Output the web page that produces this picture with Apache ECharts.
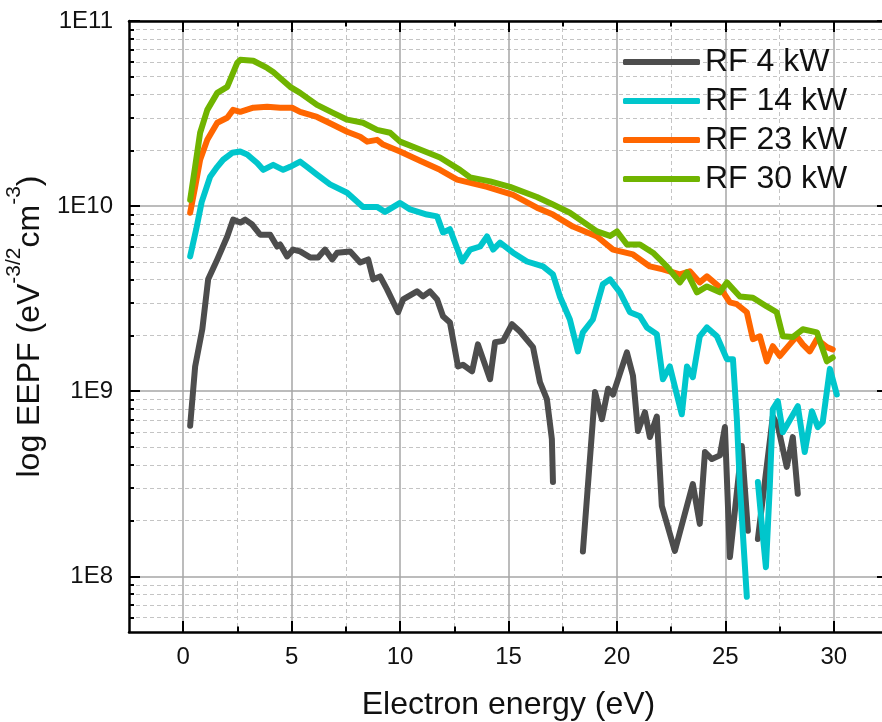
<!DOCTYPE html>
<html>
<head>
<meta charset="utf-8">
<script src="https://cdn.jsdelivr.net/npm/echarts@6/dist/echarts.min.js"></script>
<style>
html,body{margin:0;padding:0;background:#fff;}
#chart{width:882px;height:722px;}
</style>
</head>
<body>
<div id="chart"></div>
<script>
// ---------- DATA ----------
const seriesNames = ['RF 4 kW', 'RF 14 kW', 'RF 23 kW', 'RF 30 kW'];

const energy4 = [0.32,0.55,0.88,1.15,1.57,2.03,2.30,2.63,2.86,3.18,3.55,4.01,4.33,4.47,4.79,5.07,5.39,5.85,6.22,6.54,6.87,7.10,7.70,8.16,8.53,8.76,9.08,9.40,9.91,10.14,10.78,11.06,11.38,11.71,11.98,12.30,12.67,12.90,13.32,13.59,14.15,14.38,14.75,15.16,15.53,16.13,16.45,16.77,17.00,17.05,
  17.70,
  18.43,18.99,19.31,19.59,19.82,20.46,20.74,20.97,21.29,21.52,21.84,22.07,22.67,23.50,23.82,24.06,24.38,24.75,24.98,25.21,25.76,26.04,
  26.30,
  26.50,27.19,27.42,27.83,28.11,28.34];
const eepf4 = [6.5e8,1.36e9,2.16e9,4.02e9,5.15e9,6.85e9,8.45e9,8.15e9,8.45e9,7.95e9,7.0e9,7.0e9,6.05e9,6.2e9,5.35e9,5.82e9,5.69e9,5.28e9,5.28e9,5.82e9,5.15e9,5.6e9,5.69e9,4.96e9,5.15e9,4.02e9,4.17e9,3.55e9,2.67e9,3.13e9,3.46e9,3.25e9,3.46e9,3.13e9,2.54e9,2.35e9,1.36e9,1.39e9,1.28e9,1.79e9,1.16e9,1.84e9,1.87e9,2.30e9,2.10e9,1.73e9,1.12e9,9.06e8,5.5e8,3.23e8,
  null,
  1.36e8,9.9e8,7.06e8,1.03e9,9.6e8,1.62e9,1.21e9,6.1e8,7.7e8,5.65e8,7.3e8,2.4e8,1.37e8,3.15e8,1.92e8,4.69e8,4.3e8,4.5e8,6.4e8,1.27e8,5.05e8,1.76e8,
  null,
  1.59e8,7.3e8,6.5e8,3.9e8,5.65e8,2.79e8];

const energy14 = [0.32,0.60,0.85,1.24,1.57,1.84,2.26,2.63,2.95,3.41,3.69,4.15,4.61,4.93,5.39,5.71,6.17,6.77,7.56,8.29,8.94,9.31,10.00,10.46,11.24,11.71,11.98,12.30,12.86,13.23,13.69,14.01,14.29,14.61,15.21,15.85,16.59,17.05,17.37,17.83,18.20,18.43,18.89,19.35,19.68,20.14,20.60,21.06,21.38,21.84,22.12,22.44,22.99,23.23,23.50,23.82,24.15,24.61,25.07,25.35,25.53,25.67,25.99,
  26.25,
  26.50,26.73,26.87,27.05,27.19,27.42,27.65,28.34,28.66,28.99,29.26,29.49,29.82,30.14];
const eepf14 = [5.35e9,7.5e9,1.05e10,1.44e10,1.63e10,1.78e10,1.94e10,1.97e10,1.90e10,1.71e10,1.57e10,1.67e10,1.57e10,1.63e10,1.74e10,1.63e10,1.48e10,1.31e10,1.18e10,9.9e9,9.9e9,9.3e9,1.04e10,9.6e9,9.0e9,8.8e9,7.2e9,7.5e9,5.02e9,5.82e9,6.05e9,6.85e9,5.82e9,6.35e9,5.6e9,5.02e9,4.72e9,4.28e9,3.25e9,2.44e9,1.64e9,2.08e9,2.44e9,3.78e9,4.02e9,3.42e9,2.67e9,2.54e9,2.21e9,2.03e9,1.16e9,1.36e9,7.5e8,1.36e9,1.19e9,1.98e9,2.21e9,1.98e9,1.49e9,1.49e9,7.06e8,3.08e8,7.75e7,
  null,
  3.23e8,1.65e8,1.12e8,3.08e8,8.0e8,8.83e8,6.0e8,8.3e8,4.69e8,7.8e8,6.4e8,6.8e8,1.32e9,9.6e8];

const energy23 = [0.32,0.55,0.78,1.11,1.57,2.03,2.30,2.63,3.23,3.87,4.47,5.02,5.39,6.17,6.91,7.56,8.16,8.48,8.94,9.22,10.00,10.92,11.84,12.63,14.01,15.21,16.31,17.05,17.97,19.08,19.82,20.74,21.52,22.12,22.90,23.36,23.82,24.15,24.75,25.21,25.53,25.99,26.27,26.59,26.91,27.19,27.51,27.97,28.29,28.57,28.89,29.22,29.68,29.95];
const eepf23 = [9.2e9,1.27e10,1.78e10,2.28e10,2.82e10,3.0e10,3.31e10,3.23e10,3.40e10,3.44e10,3.40e10,3.40e10,3.23e10,3.03e10,2.75e10,2.52e10,2.37e10,2.23e10,2.28e10,2.15e10,1.97e10,1.76e10,1.57e10,1.39e10,1.27e10,1.15e10,9.8e9,9.0e9,7.75e9,6.85e9,5.82e9,5.48e9,4.72e9,4.55e9,4.28e9,4.44e9,3.87e9,4.17e9,3.64e9,3.02e9,2.95e9,2.67e9,1.91e9,1.98e9,1.45e9,1.75e9,1.55e9,1.79e9,1.98e9,1.79e9,1.64e9,1.91e9,1.73e9,1.68e9];

const energy30 = [0.32,0.55,0.78,1.11,1.57,2.03,2.49,2.63,3.23,3.87,4.15,4.93,5.39,6.17,6.91,7.56,8.29,8.94,9.54,10.00,10.92,11.84,12.76,13.23,14.15,15.07,16.31,17.05,17.83,19.08,19.68,20.00,20.46,21.06,21.66,22.30,22.90,23.23,23.69,24.15,24.75,25.07,25.67,26.27,26.91,27.37,27.65,28.11,28.57,29.22,29.68,29.95];
const eepf30 = [1.08e10,1.63e10,2.49e10,3.31e10,4.09e10,4.41e10,5.94e10,6.17e10,6.1e10,5.58e10,5.31e10,4.41e10,4.09e10,3.52e10,3.19e10,2.93e10,2.82e10,2.58e10,2.49e10,2.23e10,2.02e10,1.83e10,1.57e10,1.43e10,1.36e10,1.27e10,1.12e10,1.02e10,9.2e9,7.3e9,6.9e9,7.3e9,6.2e9,6.2e9,5.6e9,4.72e9,3.87e9,4.38e9,3.42e9,3.68e9,3.42e9,3.87e9,3.25e9,3.2e9,2.87e9,2.67e9,1.98e9,1.96e9,2.16e9,2.08e9,1.45e9,1.52e9];

const xMajorTicks = [0, 5, 10, 15, 20, 25, 30];
const xMinorTicks = [2.5, 7.5, 12.5, 17.5, 22.5, 27.5];
const yMajorTicks = [1e8, 1e9, 1e10, 1e11];
const yTickLabels = ['1E8', '1E9', '1E10', '1E11'];
const yMinorTicks = [6e7,7e7,8e7,9e7, 2e8,3e8,4e8,5e8,6e8,7e8,8e8,9e8, 2e9,3e9,4e9,5e9,6e9,7e9,8e9,9e9, 2e10,3e10,4e10,5e10,6e10,7e10,8e10,9e10];

// ---------- CHART ----------
const FONT = '"Liberation Sans", Arial, sans-serif';
const colors = ['#4d4d4d', '#00c6cc', '#ff6600', '#70b400'];
const energies = [energy4, energy14, energy23, energy30];
const values = [eepf4, eepf14, eepf23, eepf30];

function pairs(xs, ys) {
  return xs.map((x, i) => [x, ys[i] === null ? '-' : ys[i]]);
}

const majorGrid = { show: true, lineStyle: { color: '#a6a6a6', width: 1.5, type: 'solid' } };
const minorGrid = { show: true, lineStyle: { color: '#c4c4c4', width: 1, type: [4, 3] } };
const axisLineMain = { show: true, onZero: false, lineStyle: { color: '#000', width: 2.5 } };
const axisLineHidden = { show: false, onZero: false };

function xAx(pos, major, main) {
  return {
    type: 'value', position: pos, min: -2.5, max: 32.5,
    axisLine: main ? axisLineMain : axisLineHidden,
    axisTick: { show: true, inside: true, length: major ? 11 : 5.5, lineStyle: { color: '#000', width: 2 },
                customValues: major ? xMajorTicks : xMinorTicks },
    axisLabel: (main && pos === 'bottom') ? { show: true, customValues: xMajorTicks, fontSize: 24, fontFamily: FONT, color: '#111', margin: 13 } : { show: false },
    splitLine: pos === 'bottom' ? (major ? majorGrid : minorGrid) : { show: false },
    name: (main && pos === 'bottom') ? 'Electron energy (eV)' : '',
    nameLocation: 'middle', nameGap: 57,
    nameTextStyle: { fontSize: 32, fontFamily: FONT, color: '#111' }
  };
}
function yAx(pos, major, main) {
  return {
    type: 'log', logBase: 10, position: pos, min: 5e7, max: 1e11,
    axisLine: main ? axisLineMain : axisLineHidden,
    axisTick: { show: true, inside: true, length: major ? 11 : 5, lineStyle: { color: '#000', width: 2 },
                customValues: major ? yMajorTicks : yMinorTicks },
    axisLabel: (main && pos === 'left') ? {
      show: true, customValues: yMajorTicks, fontSize: 24, fontFamily: FONT, color: '#111', margin: 16,
      formatter: v => { const i = yMajorTicks.findIndex(t => Math.abs(t - v) / t < 1e-6); return i >= 0 ? yTickLabels[i] : ''; }
    } : { show: false },
    splitLine: pos === 'left' ? (major ? majorGrid : minorGrid) : { show: false },
    name: (main && pos === 'left') ? '{a|log EEPF (eV}{b|-3/2}{a|cm}{b|-3}{a|)}' : '',
    nameLocation: 'middle', nameGap: 80, nameRotate: 90,
    nameTextStyle: {
      rich: {
        a: { fontSize: 32, fontFamily: FONT, color: '#111', lineHeight: 42, verticalAlign: 'bottom' },
        b: { fontSize: 21, fontFamily: FONT, color: '#111', lineHeight: 17, verticalAlign: 'top' }
      }
    }
  };
}

const chart = echarts.init(document.getElementById('chart'), null, { renderer: 'canvas' });
chart.setOption({
  animation: false,
  backgroundColor: '#fff',
  grid: { left: 129, top: 21, width: 759, height: 611, containLabel: false, outerBoundsMode: 'none' },
  xAxis: [xAx('bottom', true, true), xAx('bottom', false, false), xAx('top', true, true), xAx('top', false, false)],
  yAxis: [yAx('left', true, true), yAx('left', false, false), yAx('right', true, true), yAx('right', false, false)],
  legend: {
    show: true, orient: 'vertical', left: 623, top: 46, padding: 0,
    icon: 'roundRect', itemWidth: 77, itemHeight: 6, itemGap: 7,
    textStyle: { fontSize: 32, fontFamily: FONT, color: '#111', lineHeight: 32 },
    data: seriesNames
  },
  series: seriesNames.map((n, i) => ({
    name: n, type: 'line', xAxisIndex: 0, yAxisIndex: 0,
    data: pairs(energies[i], values[i]),
    showSymbol: false, symbol: 'none', connectNulls: false,
    color: colors[i],
    lineStyle: { color: colors[i], width: 6, cap: 'round', join: 'round' }
  }))
});
</script>
</body>
</html>
